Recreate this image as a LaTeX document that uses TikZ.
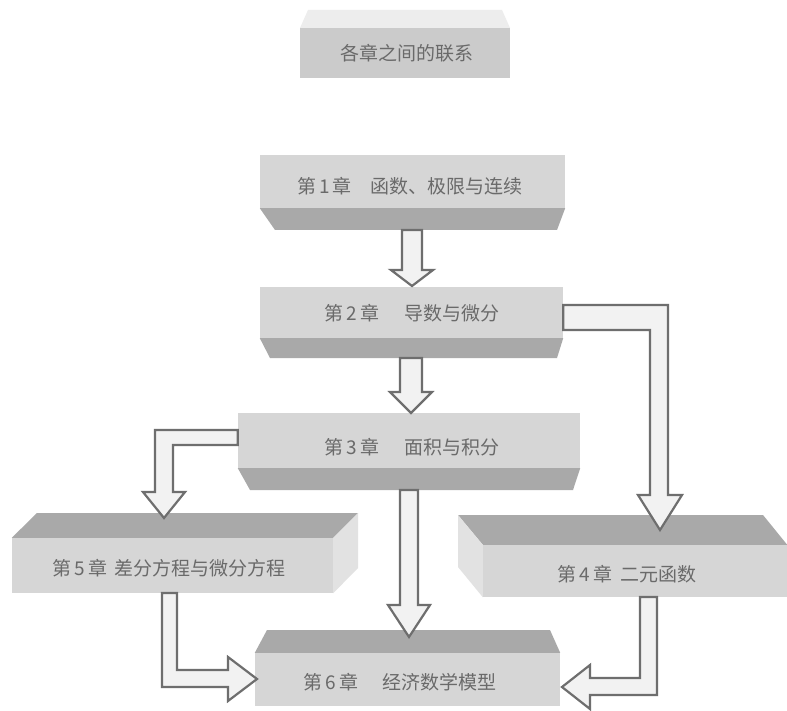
\documentclass[tikz,border=0pt]{standalone}
\usepackage{fontspec}
\newfontfamily\cjk{Noto Sans CJK SC}
\definecolor{frontgray}{HTML}{D6D6D6}
\definecolor{titlegray}{HTML}{CBCBCB}
\definecolor{shadegray}{HTML}{A9A9A9}
\definecolor{sidegray}{HTML}{E2E2E2}
\definecolor{fadegray}{HTML}{EDEDED}
\definecolor{arrowfill}{HTML}{F2F2F2}
\definecolor{arrowline}{HTML}{6E6E6E}
\definecolor{textgray}{HTML}{6A6A6A}
\tikzset{
  front/.style={fill=frontgray, draw=none, inner sep=0pt},
  titlebox/.style={front, fill=titlegray},
  lbl/.style={inner sep=0pt, text=textgray, font=\cjk\fontsize{19}{22}\selectfont},
  shade/.style={fill=shadegray, draw=none},
  sideface/.style={fill=sidegray, draw=none},
  fadeface/.style={fill=fadegray, draw=none},
  blockarrow/.style={fill=arrowfill, draw=arrowline, line width=2.2pt, line join=miter}
}
\begin{document}
\begin{tikzpicture}[x=1pt, y=-1pt]
\useasboundingbox[fill=white] (0,0) rectangle (787,711);

% title
\fill[fadeface] (300,28) -- (308,10) -- (502,10) -- (510,28) -- cycle;
\node[titlebox, minimum width=210pt, minimum height=50pt] (t) at (405,53) {};
\node[lbl] (tl) at ([xshift=2pt]t.center) {各章之间的联系};

% chapter 1
\node[front, minimum width=305pt, minimum height=53pt] (c1) at (412.5,181.5) {};
\fill[shade] (c1.south west) -- (c1.south east) -- (557,230) -- (275,230) -- cycle;
\node[lbl] (l1) at ([xshift=-2.5pt, yshift=-5pt]c1.center) {第\,1\,章\hspace{1em}函数、极限与连续};

% chapter 2
\node[front, minimum width=303pt, minimum height=51pt] (c2) at (411.5,312.5) {};
\fill[shade] (c2.south west) -- (c2.south east) -- (557,358) -- (270,358) -- cycle;
\node[lbl] (l2) at ([xshift=0.5pt, yshift=-1pt]c2.center) {第\,2\,章\hspace{1.3em}导数与微分};

% chapter 3
\node[front, minimum width=342pt, minimum height=55pt] (c3) at (409,440.5) {};
\fill[shade] (c3.south west) -- (c3.south east) -- (573,490) -- (250,490) -- cycle;
\node[lbl] (l3) at ([xshift=3pt, yshift=-7pt]c3.center) {第\,3\,章\hspace{1.3em}面积与积分};

% chapter 5
\node[front, minimum width=321pt, minimum height=55pt] (c5) at (172.5,565.5) {};
\fill[shade] (c5.north west) -- (37,513) -- (358,513) -- (c5.north east) -- cycle;
\fill[sideface] (c5.north east) -- (358,513) -- (358,568) -- (c5.south east) -- cycle;
\node[lbl] (l5) at ([xshift=-3.5pt, yshift=-2.5pt]c5.center) {第\,5\,章\hspace{0.4em}差分方程与微分方程};

% chapter 4
\node[front, minimum width=304pt, minimum height=52pt] (c4) at (635,571) {};
\fill[shade] (c4.north west) -- (458,515) -- (763,515) -- (c4.north east) -- cycle;
\fill[sideface] (c4.north west) -- (458,515) -- (458,567) -- (c4.south west) -- cycle;
\node[lbl] (l4) at ([xshift=-8pt, yshift=-3pt]c4.center) {第\,4\,章\hspace{0.4em}二元函数};

% chapter 6
\node[front, minimum width=305pt, minimum height=53pt] (c6) at (407.5,679.5) {};
\fill[shade] (c6.north west) -- (267,630) -- (550,630) -- (c6.north east) -- cycle;
\node[lbl] (l6) at ([xshift=-7.5pt, yshift=-2.5pt]c6.center) {第\,6\,章\hspace{1.3em}经济数学模型};

% arrows
\draw[blockarrow] (402,230) -- (402,270) -- (391,270) -- (412,286) -- (433,270) -- (422,270) -- (422,230) -- cycle;
\draw[blockarrow] (400,358) -- (400,392) -- (390,392) -- (411,413) -- (432,392) -- (422,392) -- (422,358) -- cycle;
\draw[blockarrow] (c2.east |- 0,305) -- (668,305) -- (668,495) -- (682,495) -- (660,530) -- (638,495) -- (650,495) -- (650,330) -- (c2.east |- 0,330) -- cycle;
\draw[blockarrow] (c3.west |- 0,430) -- (155,430) -- (155,492) -- (143,492) -- (164,518) -- (185,492) -- (173,492) -- (173,445) -- (c3.west |- 0,445) -- cycle;
\draw[blockarrow] (400,490) -- (400,605) -- (388,605) -- (409,637) -- (430,605) -- (418,605) -- (418,490) -- cycle;
\draw[blockarrow] (162,593) -- (162,687) -- (228,687) -- (228,701) -- (257,679) -- (228,657) -- (228,670) -- (177,670) -- (177,593) -- cycle;
\draw[blockarrow] (657,597) -- (657,695) -- (590,695) -- (590,709) -- (562,687) -- (590,665) -- (590,678) -- (640,678) -- (640,597) -- cycle;
\end{tikzpicture}
\end{document}
